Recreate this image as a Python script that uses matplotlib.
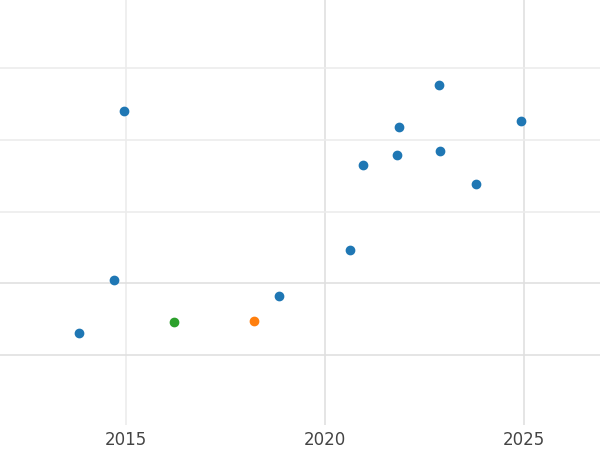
import matplotlib.pyplot as plt

years = [2013.82, 2014.69, 2014.95, 2018.84, 2020.62, 2020.95, 2021.81, 2021.86,
         2022.86, 2022.89, 2023.79, 2024.92]
values = [1.31, 2.05, 4.40, 1.82, 2.46, 3.65, 3.79, 4.18, 4.76, 3.84, 3.38, 4.26]
green_year, green_val = [2016.20], [1.46]
orange_year, orange_val = [2018.21], [1.47]

fig = plt.figure(figsize=(6, 4.5), dpi=100)
ax = fig.add_axes([0, 0.055, 1, 0.945])

for x, c in [(2015, '#ececec'), (2020, '#e0e0e0'), (2025, '#e0e0e0')]:
    ax.axvline(x, color=c, lw=1.2, zorder=0)
for y, c in [(1, '#e0e0e0'), (2, '#e0e0e0'), (3, '#ececec'), (4, '#ececec'), (5, '#ececec')]:
    ax.axhline(y, color=c, lw=1.2, zorder=0)

ax.scatter(years, values, color='#1f77b4', s=36, zorder=3)
ax.scatter(green_year, green_val, color='#2ca02c', s=36, zorder=3)
ax.scatter(orange_year, orange_val, color='#ff7f0e', s=36, zorder=3)

ax.set_xlim(2011.83, 2026.91)
ax.set_ylim(0.02, 5.95)
ax.set_xticks([2015, 2020, 2025])
ax.set_yticks([])
ax.tick_params(axis='x', length=0, labelsize=12, labelcolor='#444444', pad=4)
for s in ax.spines.values():
    s.set_visible(False)

fig.savefig('out.png')
